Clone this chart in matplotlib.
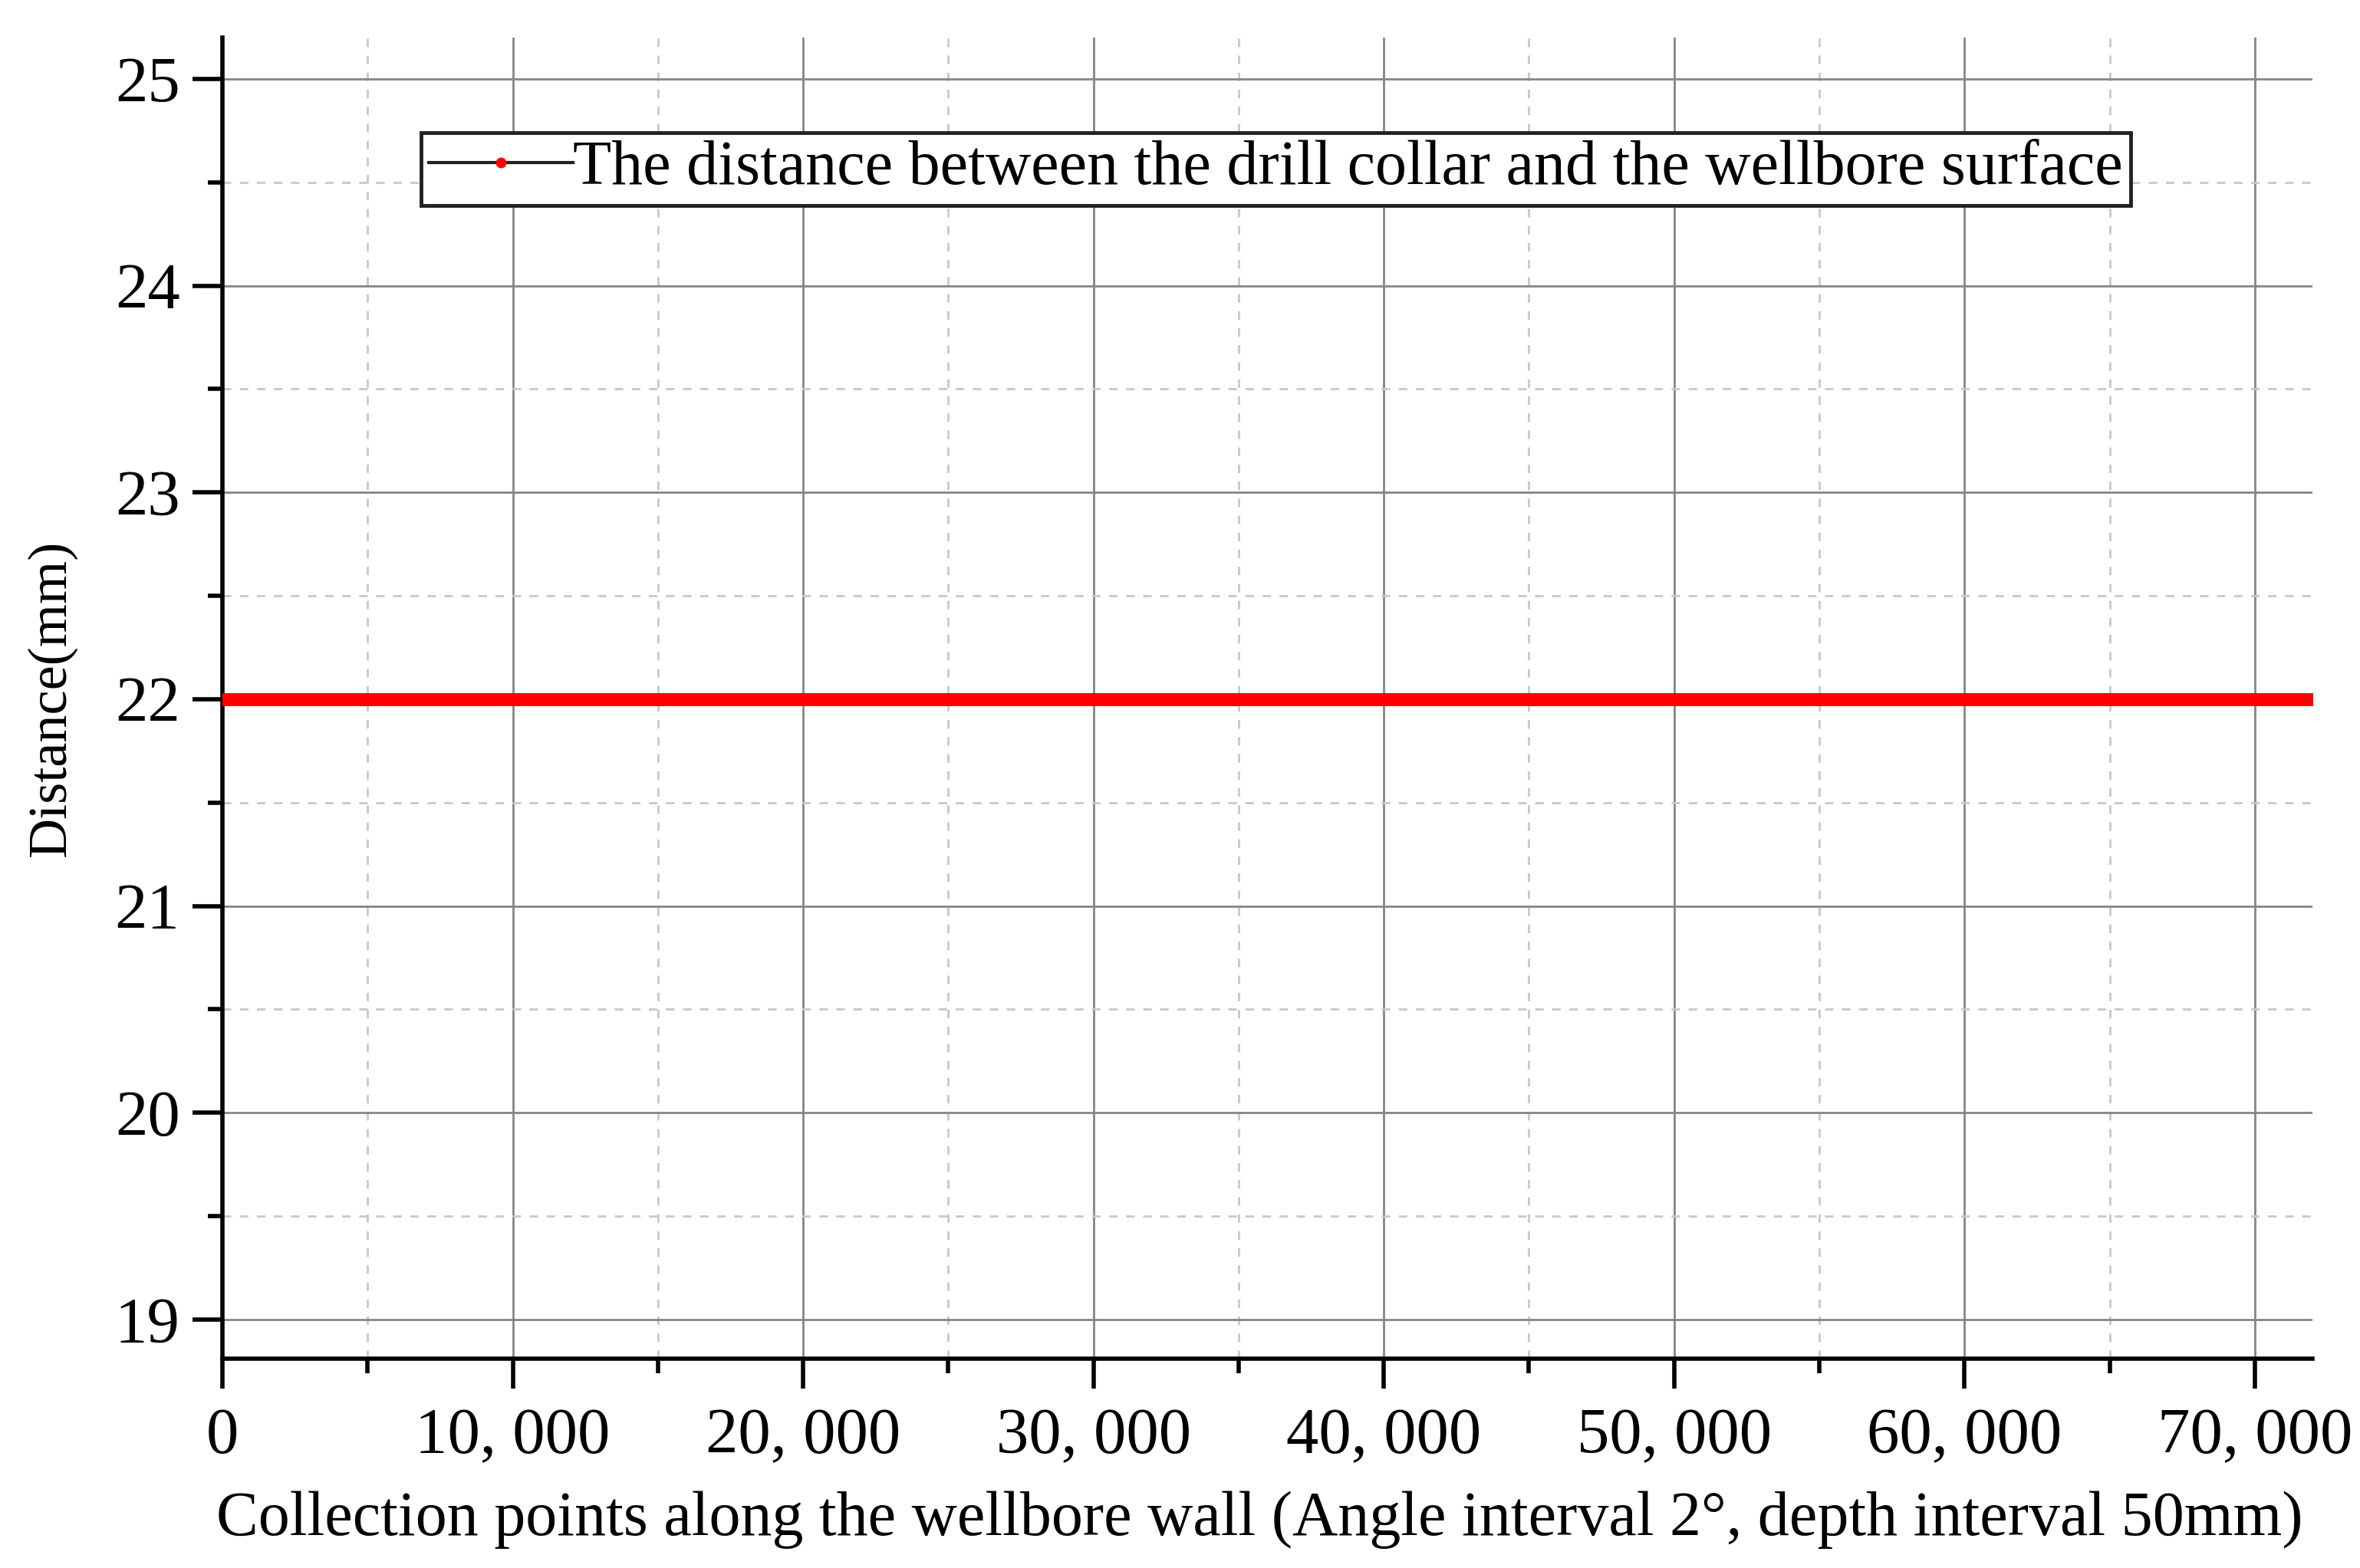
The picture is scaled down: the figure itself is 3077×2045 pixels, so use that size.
import matplotlib
matplotlib.use('Agg')
import matplotlib.pyplot as plt
from matplotlib.ticker import MultipleLocator, FuncFormatter
import numpy as np

plt.rcParams['font.family'] = ['Liberation Serif', 'DejaVu Serif']

# data: every collection point sits at 22 mm
n_points = 72000
distance_mm = 22.0
series_label = 'The distance between the drill collar and the wellbore surface'

points = np.arange(n_points)
distance = np.full(n_points, distance_mm)

fig = plt.figure(figsize=(30.77, 20.45), dpi=100)
ax = fig.add_axes([0.0943, 0.1335, 0.980 - 0.0943, 0.976 - 0.1335])

ax.plot(points, distance, '-', color='#222222', lw=3, marker='o', ms=10,
        mfc='red', mec='red', label=series_label, zorder=3)

ax.set_xlim(0, 72000)
ax.set_ylim(18.81, 25.2)

ax.xaxis.set_major_locator(MultipleLocator(10000))
ax.xaxis.set_minor_locator(MultipleLocator(5000))
ax.yaxis.set_major_locator(MultipleLocator(1))
ax.yaxis.set_minor_locator(MultipleLocator(0.5))
ax.xaxis.set_major_formatter(FuncFormatter(lambda v, p: f'{int(v):,}'.replace(',', ', ')))

ax.grid(which='major', color='#858585', lw=2, ls='-')
ax.grid(which='minor', color='#c8c8c8', lw=2, ls=(0, (4, 4)))
ax.set_axisbelow(True)

for s in ['top', 'right']:
    ax.spines[s].set_visible(False)
for s in ['left', 'bottom']:
    ax.spines[s].set_linewidth(4)
    ax.spines[s].set_color('black')

ax.tick_params(which='major', length=28, width=4, labelsize=61, pad=12, direction='out')
ax.tick_params(which='minor', length=14, width=4, direction='out')
ax.tick_params(axis='x', which='major', pad=18)

ax.set_xlabel('Collection points along the wellbore wall (Angle interval 2\u00b0, depth interval 50mm)',
              fontsize=59)
ax.xaxis.set_label_coords(0.496, -0.100)
ax.set_ylabel('Distance(mm)', fontsize=52, labelpad=36)

leg = ax.legend(loc='upper left', bbox_to_anchor=(0.095, 0.928), fontsize=59,
                fancybox=False, framealpha=1, edgecolor='#222222',
                handlelength=2.3, handletextpad=0.0, borderpad=0.12,
                markerscale=0.9, borderaxespad=0)
leg.get_frame().set_linewidth(3.5)

fig.savefig('out.png', dpi=100)
